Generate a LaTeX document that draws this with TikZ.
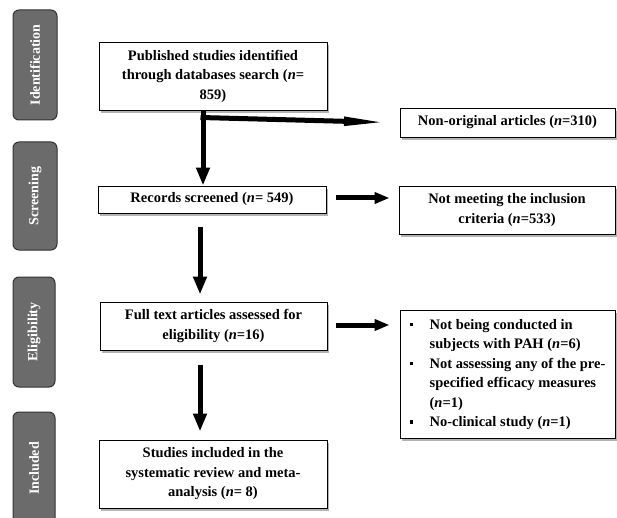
\documentclass[tikz,border=0pt]{standalone}
\usepackage{fontspec}
\setmainfont{Liberation Serif}
\usetikzlibrary{arrows.meta,shadows}
\begin{document}
\begin{tikzpicture}[x=1pt,y=-1pt,
  box/.style={draw=black, line width=0.9pt, fill=white, align=center,
    font=\bfseries\fontsize{14.5}{19.5}\selectfont, inner sep=0pt,
    drop shadow={shadow xshift=1.5pt, shadow yshift=-3pt, fill=black!50, opacity=.6}},
  side/.style={draw=black!80, line width=1pt, fill=black!58, rounded corners=6pt,
    rotate=90, text=white, font=\bfseries\fontsize{14}{16}\selectfont, inner sep=0pt},
  bigarrow/.style={line width=5pt, -{Triangle[length=18pt,width=13pt]}},
  sidearrow/.style={line width=5pt, -{Triangle[length=15pt,width=11pt]}},
  longarrow/.style={line width=5pt, -{Triangle[length=46pt,width=8pt]}},
]
\useasboundingbox (0,0) rectangle (617,518);
% phase bars
\node[side, minimum width=110, minimum height=44] (sid) at (35,65) {Identification};
\node[side, minimum width=108, minimum height=44] (ssc) at (35,196) {Screening};
\node[side, minimum width=110, minimum height=42] (sel) at (34,332) {Eligibility};
\node[side, minimum width=113, minimum height=42] (sin) at (34,468.5) {Included};
% boxes
\node[box, minimum width=228, minimum height=68] (pub) at (213,76)
  {Published studies identified\\through databases search (\textit{n}=\\859)};
\node[box, minimum width=215, minimum height=29] (non) at (507.5,122.5)
  {Non-original articles (\textit{n}=310)};
\node[box, minimum width=228, minimum height=27] (rec) at (212,199.5)
  {Records screened (\textit{n}= 549)};
\node[box, minimum width=216, minimum height=48] (nmt) at (507,210)
  {Not meeting the inclusion\\criteria (\textit{n}=533)};
\node[box, minimum width=227, minimum height=48] (ful) at (213.5,326)
  {Full text articles assessed for\\eligibility (\textit{n}=16)};
\node[box, minimum width=215, minimum height=128] (lst) at (507.5,374)
  {\begin{tabular}{@{}p{20pt}@{}l@{}}
   \rule[3pt]{3.5pt}{3.5pt} & Not being conducted in\\
   & subjects with PAH (\textit{n}=6)\\
   \rule[3pt]{3.5pt}{3.5pt} & Not assessing any of the pre-\\
   & specified efficacy measures\\
   & (\textit{n}=1)\\
   \rule[3pt]{3.5pt}{3.5pt} & No-clinical study (\textit{n}=1)
   \end{tabular}};
\node[box, minimum width=228, minimum height=68] (stu) at (213,474)
  {Studies included in the\\systematic review and meta-\\analysis (\textit{n}= 8)};
% connectors
\coordinate (j) at (203,117.5);
\draw[bigarrow, line cap=butt] ([xshift=-10pt]pub.south) -- ([xshift=-9pt]rec.north);
\draw[longarrow] ([xshift=-2.5pt]j) -- (non.west -| 390,0) coordinate (jt);
\draw[sidearrow, shorten <=10pt, shorten >=9pt] (rec.east |- 0,198) -- (nmt.west |- 0,198);
\draw[bigarrow, shorten <=14pt, shorten >=7pt] ([xshift=-12pt]rec.south) -- ([xshift=-13.5pt]ful.north);
\draw[sidearrow, shorten <=9pt, shorten >=10pt] (ful.east |- 0,325) -- (lst.west |- 0,325);
\draw[bigarrow, shorten <=15pt, shorten >=8pt] ([xshift=-13.5pt]ful.south) -- ([xshift=-13pt]stu.north);
\end{tikzpicture}
\end{document}
